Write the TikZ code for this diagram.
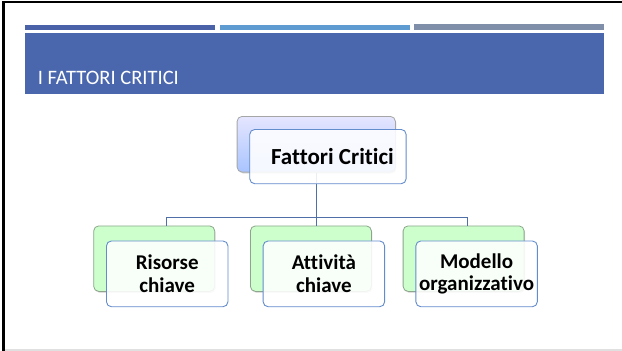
\documentclass[tikz,border=0pt]{standalone}
\usepackage{fontspec}
\setmainfont{Carlito}[Ligatures=CommonOff]
\usetikzlibrary{shadows}

\definecolor{bandblue}{RGB}{74,103,174}
\definecolor{barblue}{RGB}{74,99,168}
\definecolor{barlight}{RGB}{94,155,208}
\definecolor{bargray}{RGB}{128,143,169}
\definecolor{linkblue}{RGB}{79,111,168}
\definecolor{frameblue}{RGB}{98,140,204}
\definecolor{greenfill}{RGB}{204,255,204}
\definecolor{greenline}{RGB}{140,165,140}
\definecolor{critbottom}{RGB}{168,196,255}

\begin{document}
\begin{tikzpicture}[x=1pt, y=-1pt]
    \tikzset{
        backbox/.style={rounded corners=5pt, draw=greenline, fill=greenfill, line width=0.8pt,
            drop shadow={shadow xshift=1pt, shadow yshift=-1.5pt, opacity=0.25}},
        frontbox/.style={rounded corners=5pt, draw=frameblue, fill=white, fill opacity=0.88,
            text opacity=1, line width=0.9pt, align=center, inner sep=0pt,
            font=\bfseries\fontsize{21}{22.5}\selectfont},
        link/.style={draw=linkblue, line width=1pt}
    }
    \useasboundingbox (0,0) rectangle (622,351);

    %% slide frame
    \fill[black] (2.3,1) rectangle (622,3.3);
    \fill[black] (2.3,1) rectangle (4.7,351);
    \fill[black!12] (4.7,349) rectangle (622,351);

    %% header bars and title
    \fill[barblue]  (25,25) rectangle (215,30);
    \fill[barlight] (220,25) rectangle (410,30);
    \fill[bargray]  (414,24) rectangle (604,30);
    \fill[bandblue] (25,32.7) rectangle (604,94.3);
    \node[anchor=base west, inner sep=0pt, text=white, font=\fontsize{20.5}{22}\selectfont]
        (title) at (37.7,84) {I FATTORI CRITICI};

    %% top box (back part)
    \node[backbox, draw=black!35, top color=blue!10!white, bottom color=critbottom,
        minimum width=158.3pt, minimum height=55.7pt, anchor=north west] (crit-b) at (236.7,116) {};

    %% junctions of the tree
    \coordinate (hub) at (316,217);
    \foreach \dx/\name in {166/ris, 316/att, 467/mod}
        \coordinate (\name-d) at (\dx,217);

    %% bottom boxes (back part)
    \foreach \bx/\name in {93.3/ris, 250/att, 402.7/mod} {
        \node[backbox, minimum width=121pt, minimum height=65.5pt, anchor=north west]
            (\name-b) at (\bx,225.5) {};
    }

    \draw[link] (crit-b.south -| hub) -- (hub);
    \draw[link] (ris-d) -- (mod-d);
    \foreach \name in {ris, att, mod}
        \draw[link] (\name-d) -- (\name-d |- \name-b.north);

    %% front boxes with the labels
    \node[frontbox, minimum width=156.4pt, minimum height=54.3pt, anchor=north west,
        font=\bfseries\fontsize{23}{25}\selectfont] (crit) at (249.3,129) {\hspace*{9pt}Fattori Critici};
    \foreach \bx/\name/\txt in {93.3/ris/{Risorse\\chiave}, 250/att/{Attività\\chiave},
                                402.7/mod/{Modello\\organizzativo}} {
        \node[frontbox, minimum width=121.5pt, minimum height=65.8pt, anchor=north west]
            (\name) at ({\bx+12.7},240.5) {\txt};
    }
\end{tikzpicture}
\end{document}
